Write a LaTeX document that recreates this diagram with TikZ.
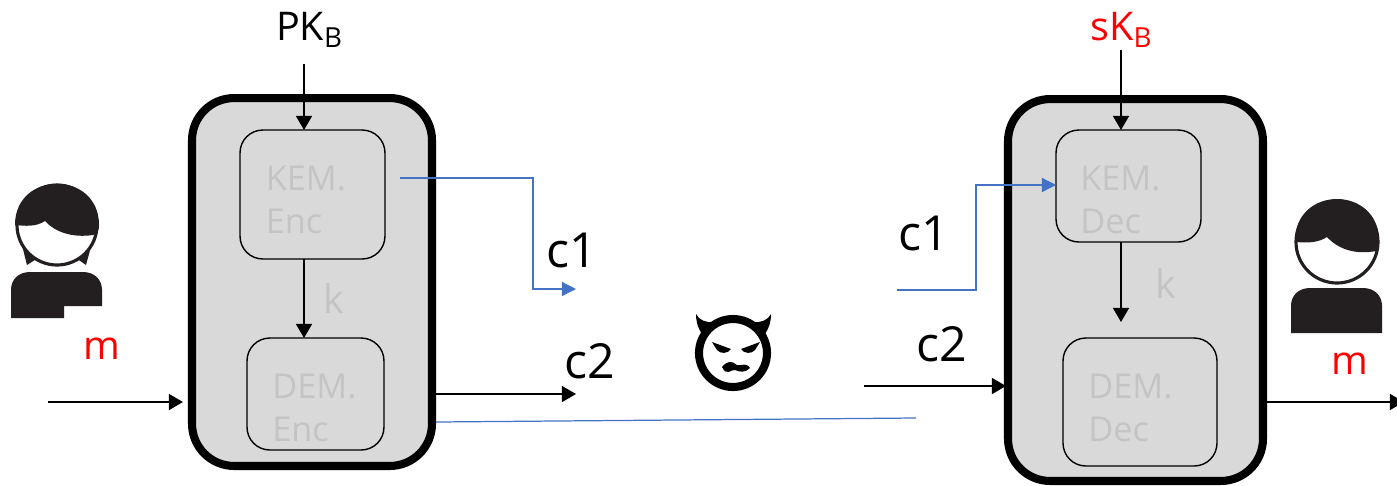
\documentclass[tikz,border=0pt]{standalone}
\usepackage{fontspec}
\setmainfont{Open Sans}
\definecolor{KEMgray}{HTML}{D9D9D9}
\definecolor{KEMtext}{HTML}{C4C4C4}
\definecolor{KEMblue}{HTML}{4472C4}
\definecolor{KEMblack}{HTML}{231F20}
\usetikzlibrary{arrows.meta, calc, positioning}
\tikzset{
   outerbox/.style={draw=black, line width=4.6pt, fill=KEMgray, rounded corners=24pt, inner sep=0pt, outer sep=0pt},
   innerbox/.style={draw=black, line width=0.8pt, fill=KEMgray, rounded corners=13pt, inner sep=0pt, outer sep=0pt},
   boxtext/.style={text=KEMtext, font=\fontsize{19.5}{24.5}\selectfont, align=left, anchor=west, inner sep=0pt},
   flowlabel/.style={font=\fontsize{22.5}{26}\selectfont, inner sep=0pt},
   wirelabel/.style={font=\fontsize{27.5}{30}\selectfont, inner sep=0pt},
   flow/.style={-{Triangle[length=8pt,width=9pt]}, line width=1.1pt, black},
   blueflow/.style={-{Triangle[length=8pt,width=8pt]}, line width=0.7pt, KEMblue},
}
\begin{document}
\begin{tikzpicture}[x=0.02cm, y=-0.02cm]
   \useasboundingbox (0,0) rectangle (1397,485);
   % Left side boxes
   \node[outerbox, minimum width=4.8cm, minimum height=7.36cm] (OuterEnc) at (312,282) {};
   \node[innerbox, minimum width=2.9cm, minimum height=2.58cm] (KemEnc) at (312.5,194.5) {};
   \node[innerbox, minimum width=2.74cm, minimum height=2.24cm] (DemEnc) at (315.5,394) {};
   \node[boxtext] (KemEncText) at (265.5,200) {KEM.\\Enc};
   \node[boxtext] (DemEncText) at (272,408) {DEM.\\Enc};
   % Right side boxes
   \node[outerbox, minimum width=5.1cm, minimum height=7.64cm] (OuterDec) at (1135.5,290) {};
   \node[innerbox, minimum width=2.9cm, minimum height=2.24cm] (KemDec) at (1128.5,186) {};
   \node[innerbox, minimum width=3.08cm, minimum height=2.56cm] (DemDec) at (1140,402) {};
   \node[boxtext] (KemDecText) at (1080,200) {KEM.\\Dec};
   \node[boxtext] (DemDecText) at (1088,408) {DEM.\\Dec};
   % Free ends
   \coordinate (PkIn) at (304,64);
   \coordinate (SkIn) at (1121,50);
   \coordinate (MsgIn) at (48,402);
   \coordinate (MsgInEnd) at (183,402);
   \coordinate (MsgOut) at (1404,402);
   \coordinate (ConeOut) at (400,178);
   \coordinate (ConeEnd) at (576,289);
   \coordinate (CtwoEnd) at (576,394);
   \coordinate (ConeIn) at (897,290);
   \coordinate (CtwoIn) at (864,386);
   \coordinate (CtwoInEnd) at (1006,386);
   \coordinate (KeyEnd) at (1121,322);
   \coordinate (WireStart) at (436,422);
   \coordinate (WireEnd) at (916,418);
   % Encryption side
   \draw[flow] (PkIn) -- (PkIn |- KemEnc.north);
   \draw[flow] (PkIn |- KemEnc.south) -- (PkIn |- DemEnc.north);
   \draw[flow] (MsgIn) -- (MsgInEnd);
   \draw[blueflow] (ConeOut) -- (533,178) -- (533,289) -- (ConeEnd);
   \draw[flow] (OuterEnc.east |- CtwoEnd) -- (CtwoEnd);
   \draw[KEMblue, line width=0.7pt] (WireStart) -- (WireEnd);
   % Decryption side
   \draw[flow] (SkIn) -- (SkIn |- KemDec.north);
   \draw[flow] (SkIn |- KemDec.south) -- (KeyEnd);
   \draw[blueflow] (ConeIn) -- (976,290) -- (976,185) -- (KemDec.west |- 0,185);
   \draw[flow] (CtwoIn) -- (CtwoInEnd);
   \draw[flow] (OuterDec.east |- MsgOut) -- (MsgOut);
   % Labels
   \node[flowlabel] (PkLabel) at (309.5,30) {PK\textsubscript{B}};
   \node[flowlabel, text=red] (SkLabel) at (1121.5,30) {sK\textsubscript{B}};
   \node[flowlabel, text=KEMtext] (KeyEnc) at (334,298) {k};
   \node[flowlabel, text=KEMtext] (KeyDec) at (1166,283) {k};
   \node[wirelabel] (ConeLeft) at (572,250) {c1};
   \node[wirelabel] (CtwoLeft) at (590,361) {c2};
   \node[wirelabel] (ConeRight) at (924,233) {c1};
   \node[wirelabel] (CtwoRight) at (942,344) {c2};
   \node[flowlabel, text=red] (MsgLeft) at (102,349) {m};
   \node[flowlabel, text=red] (MsgRight) at (1350,364) {m};
   % Sender
   \begin{scope}
      \fill[KEMblack] (17,225) -- (27,265) -- (38,258) -- (76,258) -- (86,265) -- (97,225) -- cycle;
      \filldraw[fill=white, draw=KEMblack, line width=1.8pt] (57,225) circle [radius=40];
      \fill[KEMblack] (15,225) .. controls (15,170) and (99,170) .. (99,225)
         .. controls (99,232) and (96,234) .. (93,235)
         .. controls (72,238) and (55,232) .. (45,221)
         .. controls (36,227) and (25,226) .. (15,225) -- cycle;
      \fill[KEMblack] (11,318) -- (11,290) .. controls (11,279) and (19,272) .. (30,272) -- (83,272)
         .. controls (94,272) and (102,279) .. (102,290) -- (102,306) -- (64,306) -- (64,318) -- cycle;
   \end{scope}
   % Receiver
   \filldraw[fill=white, draw=KEMblack, line width=1.8pt] (1337,242) circle [radius=41];
   \fill[KEMblack] (1295,241) .. controls (1295,185) and (1379,185) .. (1379,241)
      .. controls (1379,246) and (1378,250) .. (1376,251)
      .. controls (1355,255) and (1338,249) .. (1327,237)
      .. controls (1318,243) and (1306,243) .. (1297,242) -- cycle;
   \fill[KEMblack] (1291,333) -- (1291,306) .. controls (1291,295) and (1299,288) .. (1310,288) -- (1363,288)
      .. controls (1374,288) and (1382,295) .. (1382,306) -- (1382,333) -- cycle;
   % Eavesdropper
   \draw[black, line width=4.6pt] (733,353) circle [radius=34];
   \fill[black] (696,314) .. controls (699,320) and (706,323) .. (714,322) -- (702,334) .. controls (698,328) and (696,322) .. (696,314) -- cycle;
   \fill[black] (771,314) .. controls (768,320) and (761,323) .. (753,322) -- (765,334) .. controls (769,328) and (771,322) .. (771,314) -- cycle;
   \fill[black] (712,342) -- (731,349) .. controls (728,354) and (720,354) .. (717,350) -- cycle;
   \fill[black] (760,342) -- (741,349) .. controls (744,354) and (752,354) .. (755,350) -- cycle;
   \fill[black] (722,367) .. controls (728,360) and (732,361) .. (737,365) .. controls (742,366) and (746,362) .. (750,368)
      .. controls (745,373) and (740,372) .. (735,370) .. controls (731,369) and (727,377) .. (722,367) -- cycle;
\end{tikzpicture}
\end{document}
